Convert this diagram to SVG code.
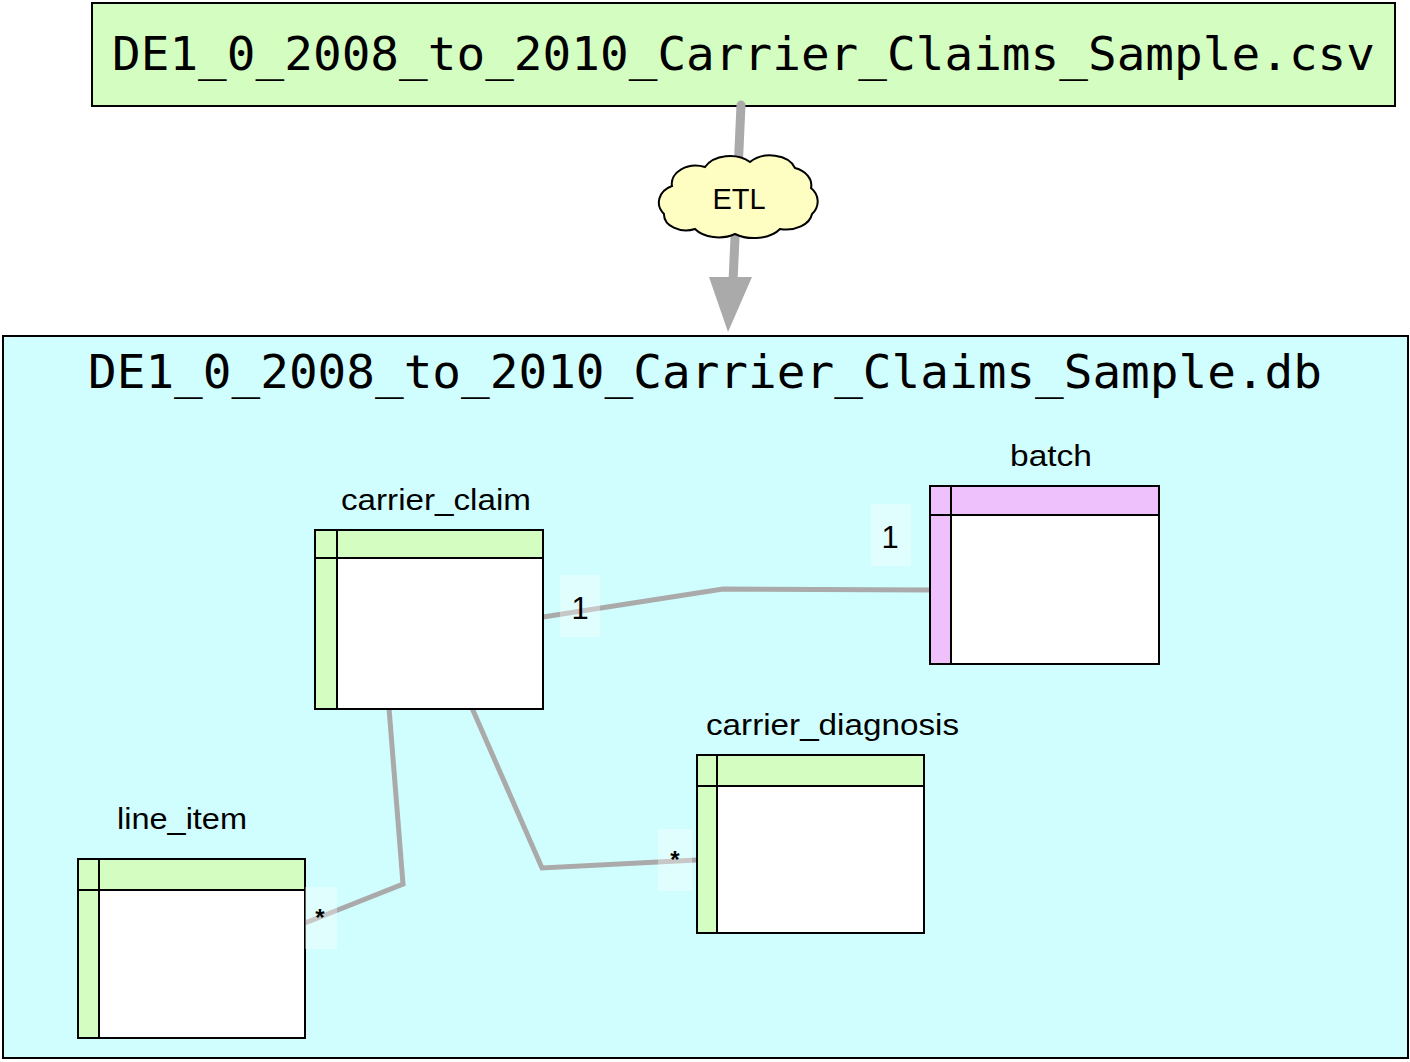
<svg xmlns="http://www.w3.org/2000/svg" width="1410" height="1062" viewBox="0 0 1410 1062">
<style>
.mono{font-family:"DejaVu Sans Mono","Liberation Mono",monospace;font-size:46px;fill:#000}
.lbl{font-family:"Liberation Sans",Arial,sans-serif;font-size:29px;fill:#000}
.card{font-family:"Liberation Sans",Arial,sans-serif;fill:#000}
.box{stroke:#000;stroke-width:2}
.tb{stroke:#000;stroke-width:2;fill:none}
.conn{fill:none;stroke:#aaaaaa;stroke-width:5;stroke-linejoin:miter}
.lblbg{fill:#ffffff;fill-opacity:0.35}
.g{fill:#d4fdc2}
.p{fill:#eec0fc}
</style>
<rect width="1410" height="1062" fill="#ffffff"/>
<g id="csv">
<rect class="box" x="92" y="3" width="1303" height="103" fill="#d4fdc2"/>
<text class="mono" x="112" y="70" textLength="1263" lengthAdjust="spacingAndGlyphs">DE1_0_2008_to_2010_Carrier_Claims_Sample.csv</text>
</g>
<g id="db">
<rect class="box" x="3" y="336" width="1405" height="722" fill="#d0fefe"/>
<text class="mono" x="88" y="388" textLength="1234" lengthAdjust="spacingAndGlyphs">DE1_0_2008_to_2010_Carrier_Claims_Sample.db</text>
</g>
<g id="connectors">
<line x1="741" y1="105" x2="733" y2="282" stroke="#aaaaaa" stroke-width="9" stroke-linecap="round"/>
<polygon points="709,277 752,277 728,332" fill="#aaaaaa"/>
<polyline class="conn" points="543,617 723,589 930,590"/>
<polyline class="conn" points="389,708 403,884 305,923"/>
<polyline class="conn" points="472,708 542,868 697,860"/>
</g>
<g id="etl">
<path d="M672,186 A24,18 0 0 1 705,167 A28,20 0 0 1 750,162 A26,18 0 0 1 795,168 A24,18 0 0 1 811,188 A20,18 0 0 1 812,214 A26,18 0 0 1 780,229 A30,18 0 0 1 735,234 A28,18 0 0 1 695,229 A22,16 0 0 1 664,214 A22,18 0 0 1 672,186 Z" fill="#fefec2" stroke="#000" stroke-width="2"/>
<text class="lbl" x="739" y="209" text-anchor="middle" font-size="30">ETL</text>
</g>
<g id="carrier_claim">
<text class="lbl" x="341" y="510" textLength="190" lengthAdjust="spacingAndGlyphs">carrier_claim</text>
<rect x="315" y="530" width="228" height="179" fill="#ffffff"/>
<rect class="g" x="315" y="530" width="228" height="28"/>
<rect class="g" x="315" y="530" width="22" height="179"/>
<rect class="tb" x="315" y="530" width="228" height="179"/>
<line class="tb" x1="315" y1="558" x2="543" y2="558"/>
<line class="tb" x1="337" y1="530" x2="337" y2="709"/>
</g>
<g id="batch">
<text class="lbl" x="1010" y="466" textLength="82" lengthAdjust="spacingAndGlyphs">batch</text>
<rect x="930" y="486" width="229" height="178" fill="#ffffff"/>
<rect class="p" x="930" y="486" width="229" height="29"/>
<rect class="p" x="930" y="486" width="21" height="178"/>
<rect class="tb" x="930" y="486" width="229" height="178"/>
<line class="tb" x1="930" y1="515" x2="1159" y2="515"/>
<line class="tb" x1="951" y1="486" x2="951" y2="664"/>
</g>
<g id="line_item">
<text class="lbl" x="117" y="829" textLength="130" lengthAdjust="spacingAndGlyphs">line_item</text>
<rect x="78" y="859" width="227" height="179" fill="#ffffff"/>
<rect class="g" x="78" y="859" width="227" height="31"/>
<rect class="g" x="78" y="859" width="21" height="179"/>
<rect class="tb" x="78" y="859" width="227" height="179"/>
<line class="tb" x1="78" y1="890" x2="305" y2="890"/>
<line class="tb" x1="99" y1="859" x2="99" y2="1038"/>
</g>
<g id="carrier_diagnosis">
<text class="lbl" x="706" y="735" textLength="253" lengthAdjust="spacingAndGlyphs">carrier_diagnosis</text>
<rect x="697" y="755" width="227" height="178" fill="#ffffff"/>
<rect class="g" x="697" y="755" width="227" height="31"/>
<rect class="g" x="697" y="755" width="20" height="178"/>
<rect class="tb" x="697" y="755" width="227" height="178"/>
<line class="tb" x1="697" y1="786" x2="924" y2="786"/>
<line class="tb" x1="717" y1="755" x2="717" y2="933"/>
</g>
<g id="labels">
<rect class="lblbg" x="560" y="575" width="40" height="62"/>
<text class="card" x="580" y="619" text-anchor="middle" font-size="31">1</text>
<rect class="lblbg" x="871" y="504" width="40" height="62"/>
<text class="card" x="890" y="548" text-anchor="middle" font-size="31">1</text>
<rect class="lblbg" x="305" y="887" width="32" height="62"/>
<text class="card" x="320" y="926" text-anchor="middle" font-size="24" font-weight="bold">*</text>
<rect class="lblbg" x="658" y="829" width="34" height="62"/>
<text class="card" x="675" y="868" text-anchor="middle" font-size="24" font-weight="bold">*</text>
</g>
</svg>
